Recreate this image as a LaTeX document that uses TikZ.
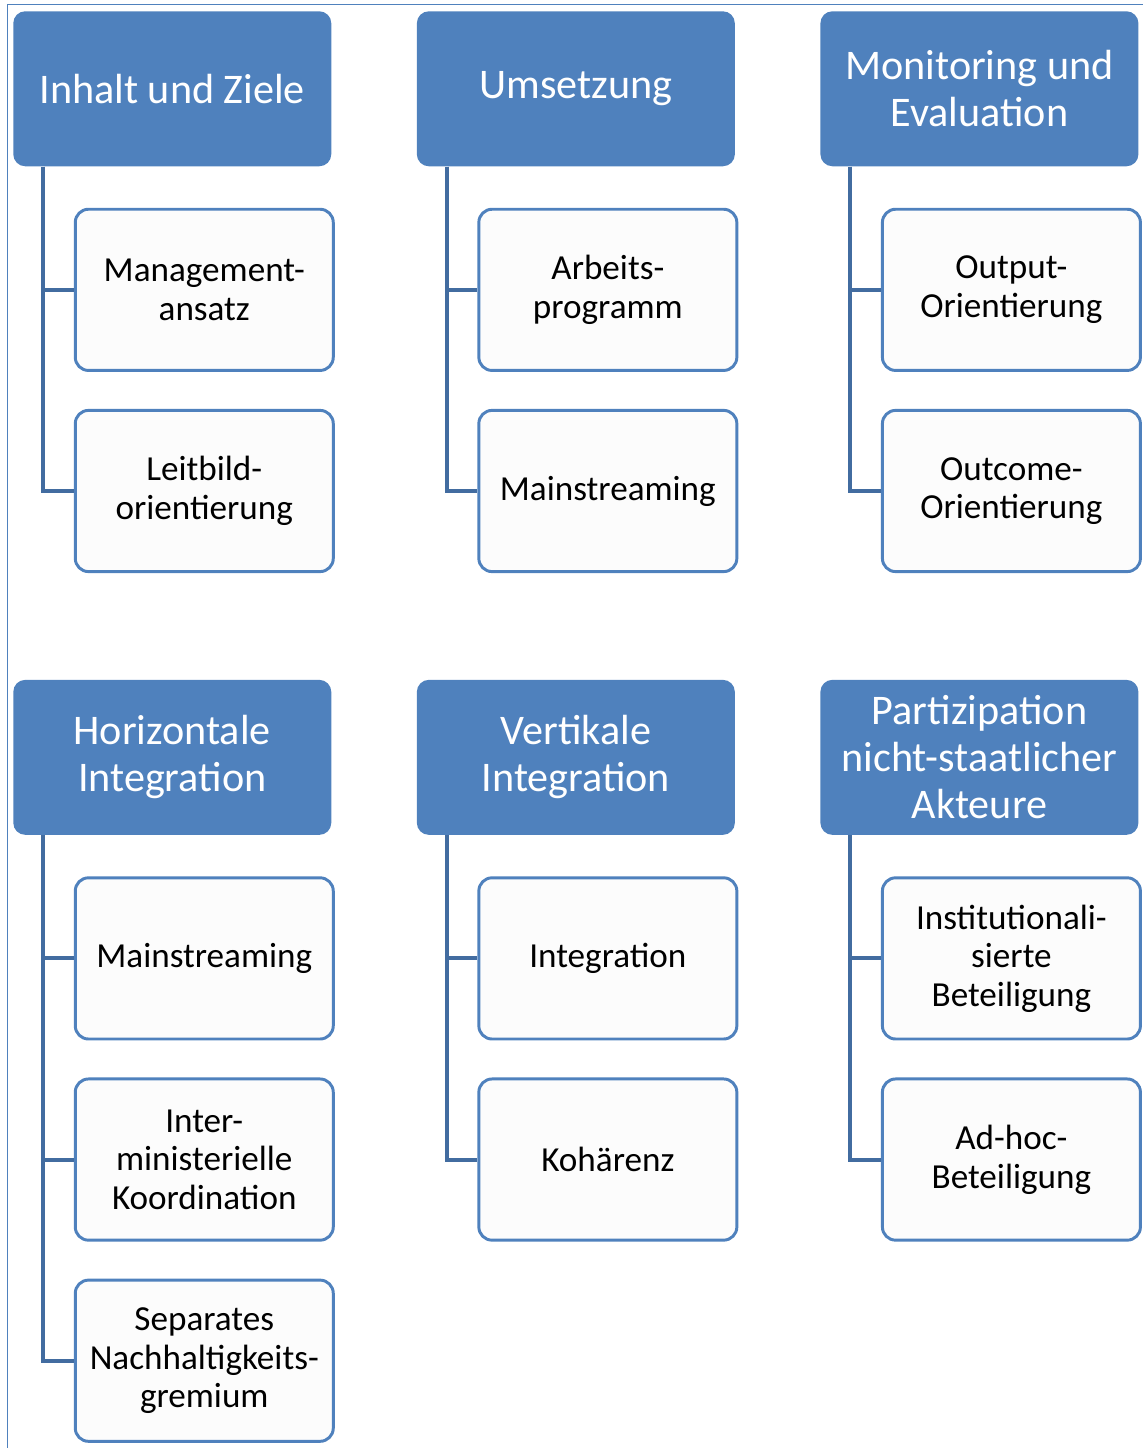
\documentclass[tikz,border=0pt]{standalone}
\usepackage{fontspec}
\setmainfont{Carlito}
\usetikzlibrary{positioning}
\definecolor{headblue}{RGB}{79,129,189}
\definecolor{linkblue}{RGB}{66,108,160}
\definecolor{subfill}{RGB}{252,252,252}

\begin{document}
\begin{tikzpicture}[
  node distance=9.25mm and 21.25mm,
  head/.style={fill=headblue, rounded corners=3mm, minimum width=7.95cm, minimum height=3.875cm,
               align=center, text=white, font=\fontsize{30}{33.5}\selectfont, inner sep=1mm},
  sub/.style={draw=headblue, line width=2.1pt, fill=subfill, rounded corners=3.3mm,
              minimum width=6.45cm, minimum height=4.03cm, align=center,
              font=\fontsize{25}{27.4}\selectfont, inner sep=1mm},
  conn/.style={draw=linkblue, line width=2.8pt},
  frame/.style={draw=headblue, line width=1.2pt},
]
\useasboundingbox (0,0) rectangle (28.55,-36.2);
\draw[frame] (0.19,-36.3) |- (28.7,-0.115);

% upper row
\node[head, anchor=north west] (inh) at (0.325,-0.275) {Inhalt und Ziele};
\node[head, right=of inh] (ums) {Umsetzung};
\node[head, right=of ums] (mon) {Monitoring und\\Evaluation};

\node[sub, below=10.3mm of inh.south west, anchor=north west, xshift=15.2mm] (mgmt) {Management-\\ansatz};
\node[sub, below=of mgmt] (leit) {Leitbild-\\orientierung};

\node[sub, below=10.3mm of ums.south west, anchor=north west, xshift=15.2mm] (arb) {Arbeits-\\programm};
\node[sub, below=of arb] (main1) {Mainstreaming};

\node[sub, below=10.3mm of mon.south west, anchor=north west, xshift=15.2mm] (outp) {Output-\\Orientierung};
\node[sub, below=of outp] (outc) {Outcome-\\Orientierung};

% lower row
\node[head, below=12.825cm of inh] (hor) {Horizontale\\Integration};
\node[head, right=of hor] (ver) {Vertikale\\Integration};
\node[head, right=of ver] (part) {Partizipation\\nicht-staatlicher\\Akteure};

\node[sub, below=10.3mm of hor.south west, anchor=north west, xshift=15.2mm] (main2) {Mainstreaming};
\node[sub, below=of main2] (inter) {Inter-\\ministerielle\\Koordination};
\node[sub, below=of inter] (sep) {Separates\\Nachhaltigkeits-\\gremium};

\node[sub, below=10.3mm of ver.south west, anchor=north west, xshift=15.2mm] (integ) {Integration};
\node[sub, below=of integ] (koh) {Kohärenz};

\node[sub, below=10.3mm of part.south west, anchor=north west, xshift=15.2mm] (inst) {Institutionali-\\sierte\\Beteiligung};
\node[sub, below=of inst] (adhoc) {Ad-hoc-\\Beteiligung};

% branch lines
\draw[conn] ([xshift=7.5mm]inh.south west) |- (mgmt.west);
\draw[conn] ([xshift=7.5mm]inh.south west) |- (leit.west);
\draw[conn] ([xshift=7.5mm]ums.south west) |- (arb.west);
\draw[conn] ([xshift=7.5mm]ums.south west) |- (main1.west);
\draw[conn] ([xshift=7.5mm]mon.south west) |- (outp.west);
\draw[conn] ([xshift=7.5mm]mon.south west) |- (outc.west);

\draw[conn] ([xshift=7.5mm]hor.south west) |- (main2.west);
\draw[conn] ([xshift=7.5mm]hor.south west) |- (inter.west);
\draw[conn] ([xshift=7.5mm]hor.south west) |- (sep.west);
\draw[conn] ([xshift=7.5mm]ver.south west) |- (integ.west);
\draw[conn] ([xshift=7.5mm]ver.south west) |- (koh.west);
\draw[conn] ([xshift=7.5mm]part.south west) |- (inst.west);
\draw[conn] ([xshift=7.5mm]part.south west) |- (adhoc.west);

\end{tikzpicture}
\end{document}
